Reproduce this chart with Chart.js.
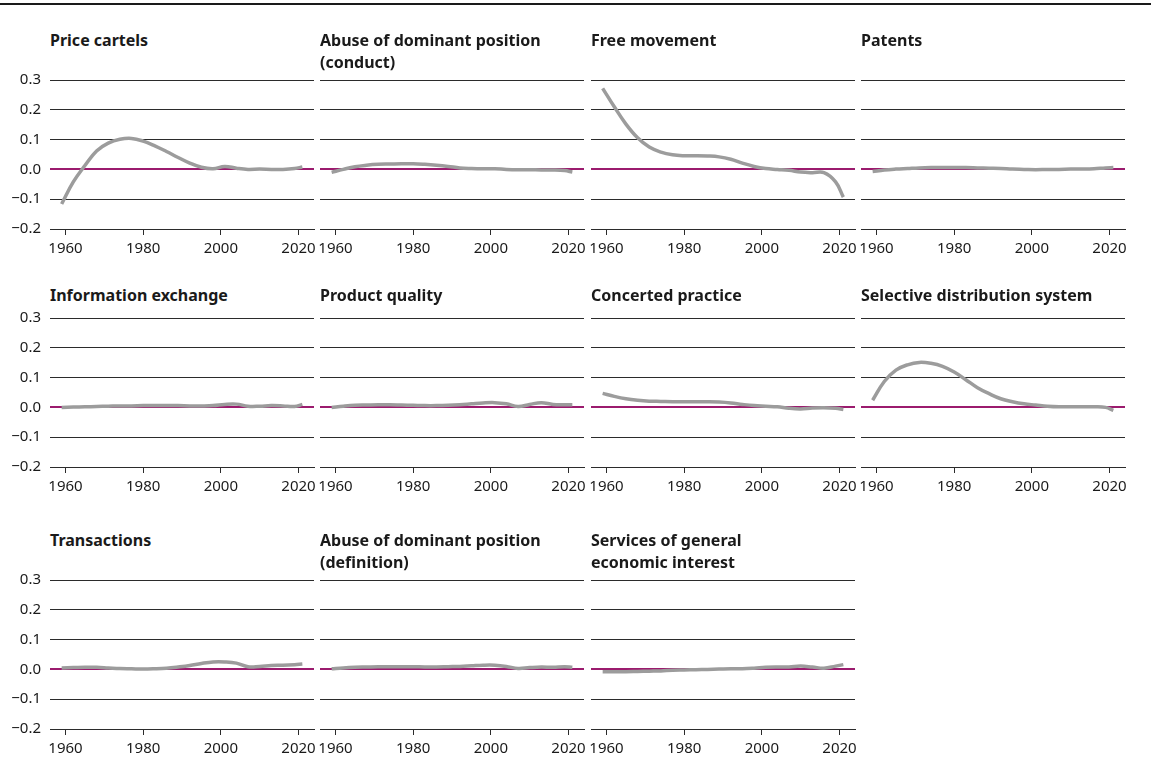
<!DOCTYPE html>
<html>
<head>
<meta charset="utf-8">
<script src="https://cdn.jsdelivr.net/npm/chart.js@4.4.1/dist/chart.umd.min.js"></script>
<style>
  body { margin: 0; background: #fff; width: 1151px; height: 760px; position: relative; overflow: hidden; font-family: "Noto Sans", sans-serif; }
  .rule { position: absolute; left: 0; top: 3px; width: 1151px; height: 2px; background: #1a1a1a; }
  .title { position: absolute; font-weight: 700; font-size: 16px; line-height: 22px; color: #1a1a1a; white-space: pre; }
  canvas { position: absolute; }
</style>
</head>
<body>
<div class="rule"></div>
<script>
// years the curves are read at
const years = [1959, 1962, 1965, 1968, 1971, 1974, 1977, 1980, 1983, 1986, 1989, 1992, 1995, 1998, 2001, 2004, 2007, 2010, 2013, 2016, 2019, 2021];

const titles = [
    'Price cartels',
    'Abuse of dominant position\n(conduct)',
    'Free movement',
    'Patents',
    'Information exchange',
    'Product quality',
    'Concerted practice',
    'Selective distribution system',
    'Transactions',
    'Abuse of dominant position\n(definition)',
    'Services of general\neconomic interest'
];

const priceCartels      = [-0.116, -0.042, 0.013, 0.062, 0.088, 0.101, 0.104, 0.095, 0.079, 0.060, 0.040, 0.021, 0.007, 0.002, 0.010, 0.004, 0.000, 0.001, 0.000, 0.000, 0.003, 0.008];
const abuseConduct      = [-0.010, 0.000, 0.009, 0.014, 0.017, 0.018, 0.019, 0.019, 0.017, 0.014, 0.010, 0.005, 0.003, 0.002, 0.002, 0.000, -0.001, -0.001, -0.002, -0.002, -0.004, -0.009];
const freeMovement      = [0.272, 0.210, 0.152, 0.106, 0.075, 0.058, 0.049, 0.046, 0.046, 0.045, 0.042, 0.034, 0.021, 0.010, 0.003, 0.000, -0.003, -0.009, -0.011, -0.011, -0.042, -0.093];
const patents           = [-0.007, -0.002, 0.001, 0.003, 0.005, 0.006, 0.006, 0.006, 0.006, 0.005, 0.004, 0.003, 0.001, 0.000, -0.001, 0.000, 0.000, 0.001, 0.001, 0.002, 0.005, 0.006];
const infoExchange      = [0.000, 0.001, 0.002, 0.003, 0.004, 0.005, 0.005, 0.006, 0.006, 0.006, 0.006, 0.005, 0.005, 0.006, 0.010, 0.011, 0.004, 0.004, 0.006, 0.005, 0.003, 0.010];
const productQuality    = [0.000, 0.004, 0.007, 0.008, 0.009, 0.009, 0.008, 0.007, 0.006, 0.006, 0.007, 0.009, 0.012, 0.015, 0.016, 0.012, 0.003, 0.010, 0.016, 0.010, 0.009, 0.009];
const concertedPractice = [0.047, 0.037, 0.029, 0.024, 0.021, 0.020, 0.019, 0.019, 0.019, 0.019, 0.018, 0.015, 0.010, 0.006, 0.004, 0.002, -0.003, -0.005, -0.002, -0.001, -0.003, -0.007];
const selectiveDist     = [0.024, 0.087, 0.125, 0.143, 0.151, 0.148, 0.138, 0.119, 0.093, 0.066, 0.046, 0.029, 0.019, 0.012, 0.008, 0.004, 0.002, 0.002, 0.002, 0.002, 0.000, -0.010];
const transactions      = [0.005, 0.006, 0.007, 0.007, 0.005, 0.003, 0.002, 0.001, 0.002, 0.004, 0.008, 0.013, 0.020, 0.025, 0.025, 0.021, 0.009, 0.010, 0.013, 0.014, 0.016, 0.018];
const abuseDefinition   = [0.002, 0.005, 0.007, 0.008, 0.009, 0.009, 0.009, 0.009, 0.008, 0.008, 0.009, 0.010, 0.012, 0.014, 0.014, 0.010, 0.003, 0.006, 0.008, 0.007, 0.009, 0.007];
const servicesGeneral   = [-0.008, -0.008, -0.008, -0.007, -0.006, -0.005, -0.003, -0.002, -0.001, 0.000, 0.001, 0.002, 0.002, 0.004, 0.007, 0.008, 0.008, 0.011, 0.008, 0.004, 0.011, 0.016];

const series = [priceCartels, abuseConduct, freeMovement, patents,
    infoExchange, productQuality, concertedPractice, selectiveDist,
    transactions, abuseDefinition, servicesGeneral];

const yTicks = [-0.2, -0.1, 0, 0.1, 0.2, 0.3];
const xTicks = [1960, 1980, 2000, 2020];

// panel geometry
const colLeft = [50, 320, 591, 861];
const rowTop = [80, 318, 580];
const titleTop = [29, 284, 529];
const plotW = 264, plotH = 149;
const axisW = 50, padTop = 30, padRight = 20, xAxisH = 40;

const dark = '#2b2b2b';
const purple = '#9b1b6e';
const lineGray = '#9c9c9c';
const font = { family: '"Noto Sans", sans-serif', size: 15 };

function fmtY(v) {
    const s = Math.abs(v).toFixed(1);
    return v < -1e-9 ? '\u2212' + s : s;
}

series.forEach((vals, i) => {
    const col = i % 4;
    const row = Math.floor(i / 4);

    const t = document.createElement('div');
    t.className = 'title';
    t.style.left = colLeft[col] + 'px';
    t.style.top = titleTop[row] + 'px';
    t.textContent = titles[i];
    document.body.appendChild(t);

    const canvas = document.createElement('canvas');
    canvas.width = axisW + plotW + padRight;
    canvas.height = padTop + plotH + xAxisH;
    canvas.style.left = (colLeft[col] - axisW) + 'px';
    canvas.style.top = (rowTop[row] - padTop) + 'px';
    document.body.appendChild(canvas);

    new Chart(canvas.getContext('2d'), {
        type: 'line',
        data: {
            datasets: [{
                data: years.map((yr, k) => ({ x: yr, y: vals[k] })),
                borderColor: lineGray,
                borderWidth: 3.5,
                pointRadius: 0,
                tension: 0.4,
                fill: false,
                clip: false
            }]
        },
        options: {
            responsive: false,
            animation: false,
            devicePixelRatio: 1,
            layout: { padding: { top: padTop, right: padRight, left: 0, bottom: 0 } },
            plugins: { legend: { display: false }, tooltip: { enabled: false } },
            scales: {
                x: {
                    type: 'linear',
                    min: 1956,
                    max: 2024,
                    afterBuildTicks: (axis) => { axis.ticks = xTicks.map(v => ({ value: v })); },
                    afterFit: (axis) => { axis.height = xAxisH; },
                    grid: { drawOnChartArea: false, drawTicks: true, tickLength: 6, color: dark, lineWidth: 1 },
                    border: { display: true, color: dark, width: 1 },
                    ticks: { font: font, color: '#1a1a1a', padding: 5, maxRotation: 0, callback: (v) => String(v) }
                },
                y: {
                    min: -0.2,
                    max: 0.3,
                    afterBuildTicks: (axis) => { axis.ticks = yTicks.map(v => ({ value: v })); },
                    afterFit: (axis) => { axis.width = axisW; },
                    grid: {
                        drawTicks: false,
                        color: (ctx) => Math.abs(ctx.tick.value) < 1e-9 ? purple : dark,
                        lineWidth: (ctx) => Math.abs(ctx.tick.value) < 1e-9 ? 2 : 1
                    },
                    border: { display: false },
                    ticks: { display: col === 0, font: font, color: '#1a1a1a', padding: 9, callback: (v) => fmtY(v) }
                }
            }
        }
    });
});
</script>
</body>
</html>
